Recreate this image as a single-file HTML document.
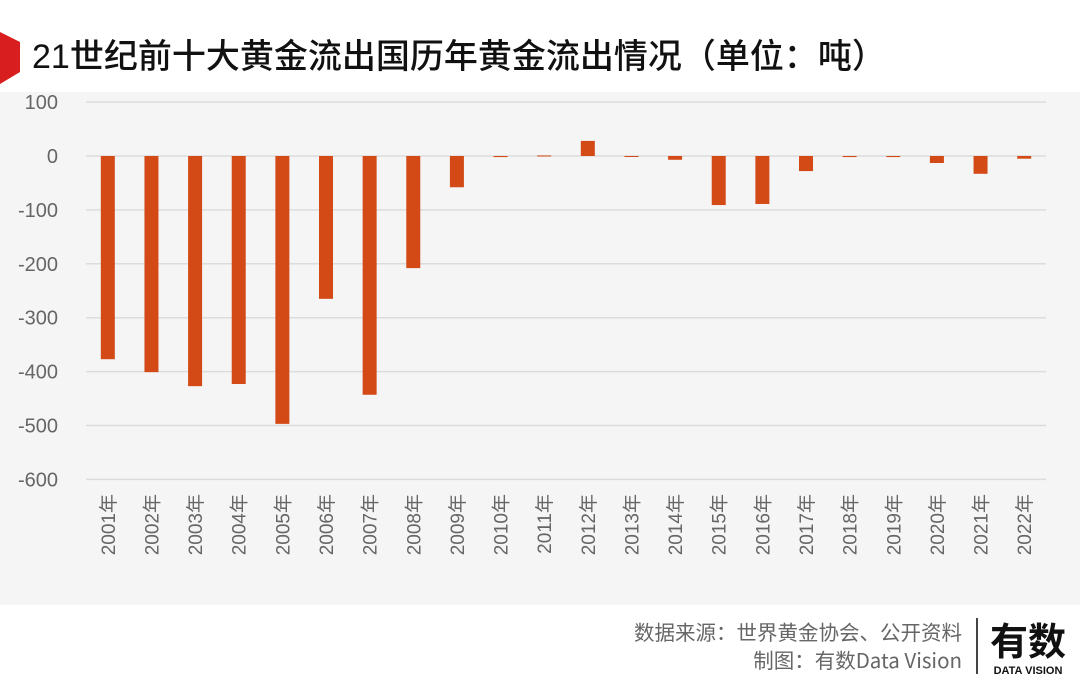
<!DOCTYPE html>
<html><head><meta charset="utf-8"><style>
body{margin:0;width:1080px;height:694px;background:#fff;overflow:hidden;font-family:"Liberation Sans","Noto Sans CJK SC",sans-serif;}
</style></head><body>
<svg width="1080" height="694" xmlns="http://www.w3.org/2000/svg">
<polygon points="0,32 20,42 20,72 0,84" fill="#d81e1e"/>
<text x="32" y="68" font-size="34" font-weight="500" fill="#111" font-family="Liberation Sans, Noto Sans CJK SC, sans-serif">21世纪前十大黄金流出国历年黄金流出情况（单位：吨）</text>
<rect x="0" y="92" width="1080" height="513" fill="#f5f5f5"/>
<g id="grid"></g><g id="bars"></g><g id="xl"></g>
<text x="962" y="640" font-size="20.5" fill="#666" text-anchor="end" font-family="Noto Sans CJK SC, sans-serif">数据来源：世界黄金协会、公开资料</text>
<text x="962" y="668" font-size="20.5" fill="#666" text-anchor="end" font-family="Noto Sans CJK SC, sans-serif">制图：有数Data Vision</text>
<line x1="977" y1="618" x2="977" y2="674" stroke="#444" stroke-width="2"/>
<text x="1028" y="655" font-size="38" font-weight="bold" fill="#111" text-anchor="middle" font-family="Noto Sans CJK SC, sans-serif">有数</text>
<text x="1028" y="674" font-size="11" font-weight="bold" fill="#111" text-anchor="middle">DATA VISION</text>
</svg>
<script>
const years=["2001年","2002年","2003年","2004年","2005年","2006年","2007年","2008年","2009年","2010年","2011年","2012年","2013年","2014年","2015年","2016年","2017年","2018年","2019年","2020年","2021年","2022年"];
const values=[-377,-401,-427,-423,-497,-265,-443,-208,-58,-2,1,28,-1,-7,-91,-89,-28,-2,-2,-13,-33,-5];
const ticks=[100,0,-100,-200,-300,-400,-500,-600];
const NS="http://www.w3.org/2000/svg";
const x0=86,x1=1046;
const bw=(x1-x0)/years.length;
const y=v=>156-v*0.539;
const xc=i=>x0+bw*(i+0.5);
const g=document.getElementById('grid'),b=document.getElementById('bars'),xl=document.getElementById('xl');
ticks.forEach(t=>{
 const l=document.createElementNS(NS,'line');
 l.setAttribute('x1',x0);l.setAttribute('x2',x1);l.setAttribute('y1',y(t));l.setAttribute('y2',y(t));
 l.setAttribute('stroke','#dcdcdc');l.setAttribute('stroke-width','1.5');
 
 
 g.appendChild(l);
 const tx=document.createElementNS(NS,'text');
 tx.setAttribute('x',58);tx.setAttribute('y',y(t)+7);tx.setAttribute('font-size','20');
 tx.setAttribute('fill','#666');tx.setAttribute('text-anchor','end');tx.textContent=t;
 
 
 g.appendChild(tx);
});
values.forEach((v,i)=>{
 const r=document.createElementNS(NS,'rect');
 const top=Math.min(y(v),y(0)),h=Math.max(Math.abs(y(v)-y(0)),1);
 r.setAttribute('x',xc(i)-7);r.setAttribute('width',14);r.setAttribute('y',top);r.setAttribute('height',h);
 r.setAttribute('fill','#d44a17');
 
 
 b.appendChild(r);
 const tx=document.createElementNS(NS,'text');
 const cx=xc(i)+7,cy=494;
 tx.setAttribute('transform','translate('+cx+','+cy+') rotate(-90)');
 tx.setAttribute('font-size','19');tx.setAttribute('fill','#666');tx.setAttribute('text-anchor','end');
 tx.setAttribute('font-family','Liberation Sans, Noto Sans CJK SC, sans-serif');
 tx.textContent=years[i];
 
 
 xl.appendChild(tx);
});
</script>
</body></html>
